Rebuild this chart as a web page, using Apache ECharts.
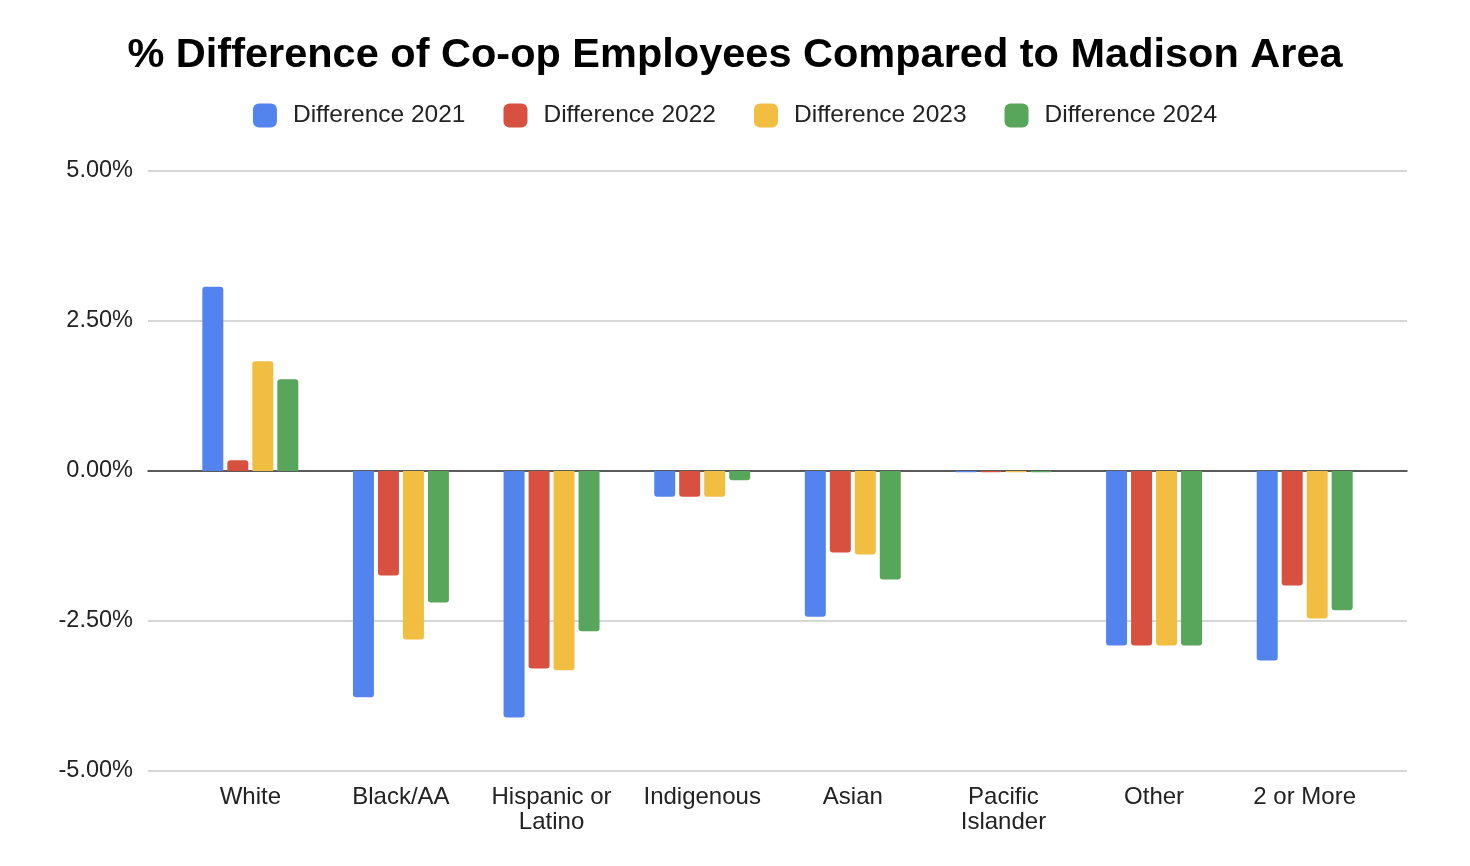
<!DOCTYPE html>
<html>
<head>
<meta charset="utf-8">
<script src="https://cdn.jsdelivr.net/npm/echarts@6/dist/echarts.min.js"></script>
<style>
html,body{margin:0;padding:0;background:#fff;}
#chart{width:1470px;height:866px;}
</style>
</head>
<body>
<div id="chart"></div>
<script>
const categories = ['White', 'Black/AA', 'Hispanic or\nLatino', 'Indigenous', 'Asian', 'Pacific\nIslander', 'Other', '2 or More'];
const seriesNames = ['Difference 2021', 'Difference 2022', 'Difference 2023', 'Difference 2024'];
const diff2021 = [3.07, -3.77, -4.11, -0.43, -2.43, -0.02, -2.91, -3.16];
const diff2022 = [0.18, -1.74, -3.29, -0.43, -1.36, -0.02, -2.91, -1.91];
const diff2023 = [1.83, -2.81, -3.32, -0.43, -1.39, -0.02, -2.91, -2.46];
const diff2024 = [1.53, -2.19, -2.67, -0.155, -1.81, -0.02, -2.91, -2.32];
const yTicks = [-5, -2.5, 0, 2.5, 5];

const colors = ['#5384ED', '#D85140', '#F1BE42', '#58A55C'];
const allData = [diff2021, diff2022, diff2023, diff2024];
const FONT = '"Liberation Sans", Arial, sans-serif';

const chart = echarts.init(document.getElementById('chart'));

const series = allData.map((arr, i) => ({
  name: seriesNames[i],
  type: 'bar',
  xAxisIndex: 1,
  yAxisIndex: 1,
  barWidth: 21,
  barGap: '19%',
  itemStyle: { color: colors[i] },
  data: arr.map(v => ({
    value: v,
    itemStyle: { borderRadius: v >= 0 ? [3, 3, 0, 0] : [0, 0, 3, 3] }
  }))
}));

chart.setOption({
  animation: false,
  backgroundColor: '#fff',
  color: colors,
  title: {
    text: '% Difference of Co-op Employees Compared to Madison Area',
    left: 'center',
    top: 30,
    textStyle: { fontFamily: FONT, fontWeight: 'bold', fontSize: 41.5, color: '#000' }
  },
  legend: {
    data: seriesNames,
    left: 'center',
    top: 98,
    itemWidth: 24,
    itemHeight: 24,
    itemGap: 38,
    itemStyle: { borderRadius: 3 },
    icon: 'roundRect',
    textStyle: { fontFamily: FONT, fontSize: 24.5, color: '#222', padding: [0, 0, 0, 11] }
  },
  grid: [
    { left: 148, right: 63, top: 171, bottom: 95 },
    { left: 175, right: 90, top: 171, bottom: 95 }
  ],
  xAxis: [
    {
      type: 'category',
      gridIndex: 0,
      data: [''],
      axisLine: { show: true, onZero: true, lineStyle: { color: '#333', width: 1.5 } },
      axisTick: { show: false },
      axisLabel: { show: false }
    },
    {
      type: 'category',
      gridIndex: 1,
      data: categories,
      axisLine: { show: false },
      axisTick: { show: false },
      axisLabel: {
        interval: 0,
        margin: 14,
        fontFamily: FONT,
        fontSize: 24,
        lineHeight: 25,
        color: '#222'
      }
    }
  ],
  yAxis: [
    {
      type: 'value',
      gridIndex: 0,
      min: yTicks[0],
      max: yTicks[yTicks.length - 1],
      interval: 2.5,
      axisLine: { show: false },
      axisTick: { show: false },
      splitLine: { lineStyle: { color: '#d6d6d6', width: 2 } },
      axisLabel: {
        margin: 15,
        fontFamily: FONT,
        fontSize: 23.5,
        color: '#222',
        padding: [2, 0, 0, 0],
        formatter: v => v.toFixed(2) + '%'
      }
    },
    {
      type: 'value',
      gridIndex: 1,
      min: yTicks[0],
      max: yTicks[yTicks.length - 1],
      interval: 2.5,
      show: false,
      splitLine: { show: false }
    }
  ],
  series: series
});
</script>
</body>
</html>
